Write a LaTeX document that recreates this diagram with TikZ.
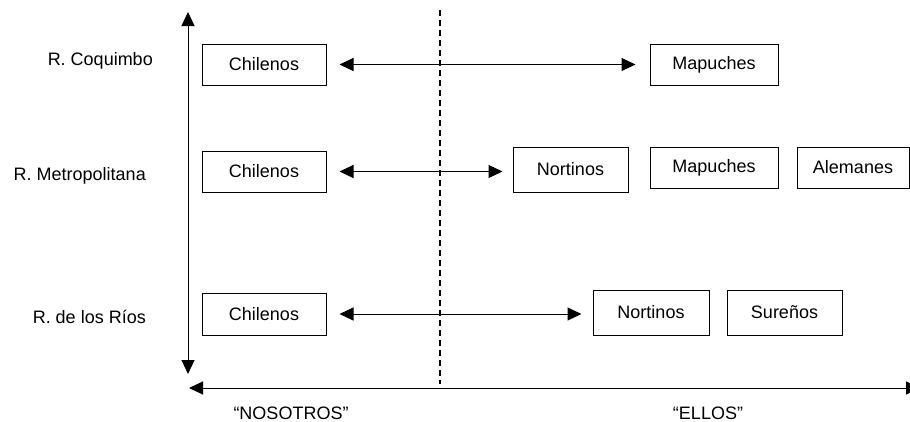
\documentclass[tikz,border=0pt]{standalone}
\usepackage{fontspec}
\setmainfont{Liberation Sans}
\usetikzlibrary{arrows.meta,positioning}

\tikzset{
    grupo/.style={draw, line width=1pt, inner sep=0pt, minimum height=41pt,
        font=\fontsize{18}{21}\selectfont},
    region/.style={anchor=base east, inner sep=0pt, font=\fontsize{18}{21}\selectfont},
    polo/.style={anchor=base, inner sep=0pt, font=\fontsize{18}{21}\selectfont},
    flecha/.style={{Triangle[length=14pt,width=13pt]}-{Triangle[length=14pt,width=13pt]},
        line width=1pt},
}

\begin{document}
\begin{tikzpicture}[x=1pt, y=-1pt]
    \useasboundingbox (0,0) rectangle (910,421);

    % regions on the left
    \node[region] (coq) at (153,65) {R. Coquimbo};
    \node[region] (met) at (146,180) {R. Metropolitana};
    \node[region] (rios) at (146,323) {R. de los Ríos};

    % axes
    \coordinate (arriba) at (188,12);
    \coordinate (abajo) at (188,374);
    \coordinate (izq) at (189,388);
    \coordinate (der) at (920,388);
    \draw[flecha] (abajo) -- (arriba);
    \draw[flecha] (izq) -- (der);

    % border between us and them
    \coordinate (borde1) at (440,10);
    \coordinate (borde2) at (440,384);
    \draw[line width=1.2pt, dash pattern=on 6pt off 4pt] (borde1) -- (borde2);

    % first row
    \node[grupo, minimum width=124pt] (chi1) at (264,64.5) {Chilenos};
    \node[grupo, minimum width=128pt] (map1) at (714,64.5) {Mapuches};
    \draw[flecha, shorten <=13pt, shorten >=14pt] (chi1.east) -- (map1.west);

    % second row
    \node[grupo, minimum width=124pt] (chi2) at (264,171.5) {Chilenos};
    \node[grupo, minimum width=115pt, minimum height=45pt] (nor2) at (570.5,169.5) {Nortinos};
    \node[grupo, minimum width=128pt] (map2) at (714,167.5) {Mapuches};
    \node[grupo, minimum width=112pt] (ale2) at (853,167.5) {Alemanes};
    \draw[flecha, shorten <=13pt, shorten >=10pt] (chi2.east) -- (chi2.east -| nor2.west);

    % third row
    \node[grupo, minimum width=124pt, minimum height=42pt] (chi3) at (264,314) {Chilenos};
    \node[grupo, minimum width=116pt, minimum height=45pt] (nor3) at (651,312.5) {Nortinos};
    \node[grupo, minimum width=115pt, minimum height=45pt] (sur3) at (784.5,312.5) {Sureños};
    \draw[flecha, shorten <=13pt, shorten >=11pt] (chi3.east) -- (chi3.east -| nor3.west);

    % us and them
    \node[polo] (nos) at (291,419) {“NOSOTROS”};
    \node[polo] (ellos) at (708,419) {“ELLOS”};
\end{tikzpicture}
\end{document}
